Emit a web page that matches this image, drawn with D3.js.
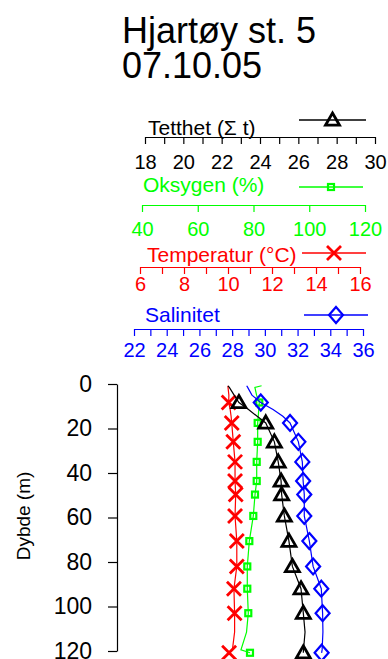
<!DOCTYPE html>
<html>
<head>
<meta charset="utf-8">
<script src="https://cdn.jsdelivr.net/npm/d3@7"></script>
<style>
  html, body { margin: 0; padding: 0; background: #fff; }
  svg { display: block; }
  text { font-family: "Liberation Sans", Arial, sans-serif; }
</style>
</head>
<body>
<svg id="chart" width="388" height="659"></svg>
<script>
// CTD profile, Hjartøy station 5, 7 Oct 2005
const profileDepth = [0.8, 1.5, 5, 8.3, 11.5, 14.5, 17.5, 26, 35, 43.6, 49.7, 59.3, 70.6, 82, 92, 103, 111.5, 119.5, 120.8];
const temperature  = [10.0, 10.0, 10.04, 10.03, 10.1, 10.14, 10.17, 10.24, 10.32, 10.32, 10.35, 10.32, 10.4, 10.4, 10.27, 10.3, 10.3, 10.2, 10.05];
const salinity     = [28.89, 28.95, 29.21, 29.75, 30.5, 31.1, 31.54, 32.05, 32.29, 32.34, 32.41, 32.41, 32.72, 32.95, 33.45, 33.53, 33.55, 33.5, 33.47];
const density      = [22.33, 22.4, 22.65, 22.9, 23.4, 23.85, 24.3, 24.75, 24.95, 25.1, 25.13, 25.27, 25.51, 25.69, 26.14, 26.26, 26.35, 26.27, 26.26];
const oxygen       = [82.9, 80.5, 81.1, 82.08, 81.9, 81.7, 81.5, 81.5, 81.15, 81.15, 80.54, 79.93, 78.5, 77.77, 77.77, 78.13, 77.5, 75.5, 78.74];

// depths where a symbol is drawn on each profile
const markerDepths = [8.3, 17.5, 26, 35, 43.6, 49.7, 59.3, 70.6, 82, 92, 103, 120.8];

// axis ticks and labels
const densityTicks = d3.range(18, 31, 1);
const densityLabels = [18, 20, 22, 24, 26, 28, 30];
const oxygenTicks = [40, 60, 80, 100, 120];
const tempTicks = d3.range(6, 17, 1);
const tempLabels = [6, 8, 10, 12, 14, 16];
const salTicks = d3.range(22, 37, 1);
const salLabels = [22, 24, 26, 28, 30, 32, 34, 36];
const depthTicks = [0, 20, 40, 60, 80, 100, 120];

const titleLines = ["Hjartøy st. 5", "07.10.05"];

const BLACK = "#000000", GREEN = "#00ff00", RED = "#ff0000", BLUE = "#0000ff";

const svg = d3.select("#chart");

// scales
const yScale = d3.scaleLinear().domain([0, 120]).range([384, 651]);
const xDensity = d3.scaleLinear().domain([18, 30]).range([145, 375]);
const xOxygen = d3.scaleLinear().domain([40, 120]).range([142, 365]);
const xTemp = d3.scaleLinear().domain([6, 16]).range([140, 360]);
const xSal = d3.scaleLinear().domain([22, 36]).range([134, 363]);

// title
svg.append("g").selectAll("text").data(titleLines).join("text")
  .attr("x", 122)
  .attr("y", (d, i) => 43 + i * 35)
  .attr("font-size", 36)
  .attr("fill", BLACK)
  .text(d => d);

// symbol generators (drawn centred on 0,0)
const symbols = {
  triangle: g => g.append("path").attr("d", "M0,-7L7,5.2L-7,5.2Z")
    .attr("fill", "none").attr("stroke", BLACK).attr("stroke-width", 2.8).attr("stroke-linejoin", "miter"),
  square: g => g.append("rect").attr("x", -3).attr("y", -3).attr("width", 6).attr("height", 6)
    .attr("fill", "none").attr("stroke", GREEN).attr("stroke-width", 2.2),
  cross: g => g.append("path").attr("d", "M-7,-7L7,7M-7,7L7,-7")
    .attr("fill", "none").attr("stroke", RED).attr("stroke-width", 2.8),
  diamond: g => g.append("path").attr("d", "M0,-8L7,0L0,8L-7,0Z")
    .attr("fill", "none").attr("stroke", BLUE).attr("stroke-width", 2.2)
};

// stacked top axes with legend lines
function topAxis(cfg) {
  const g = svg.append("g");
  const axis = d3.axisBottom(cfg.scale)
    .tickValues(cfg.ticks)
    .tickSize(7)
    .tickSizeOuter(0)
    .tickPadding(cfg.pad)
    .tickFormat(d => cfg.labels.includes(d) ? d : "");
  const ag = g.append("g").attr("transform", `translate(0,${cfg.y})`).call(axis);
  ag.select(".domain").attr("stroke", cfg.color).attr("stroke-width", 1.2);
  ag.selectAll(".tick line").attr("stroke", cfg.color).attr("stroke-width", 1.2);
  ag.selectAll(".tick text").attr("fill", cfg.color).attr("font-size", 20)
    .attr("font-family", "'Liberation Sans', Arial, sans-serif");
  g.append("text").attr("x", cfg.labelX).attr("y", cfg.labelY)
    .attr("font-size", 21).attr("fill", cfg.color).text(cfg.label);
  g.append("line").attr("x1", cfg.legX[0]).attr("x2", cfg.legX[1])
    .attr("y1", cfg.legY).attr("y2", cfg.legY)
    .attr("stroke", cfg.color).attr("stroke-width", 1.3);
  const m = g.append("g").attr("transform", `translate(${(cfg.legX[0] + cfg.legX[1]) / 2},${cfg.legY})`);
  symbols[cfg.symbol](m);
}

topAxis({ scale: xDensity, ticks: densityTicks, labels: densityLabels, y: 137, pad: 11, color: BLACK,
  label: "Tetthet (\u03A3 t)", labelX: 148, labelY: 135, legX: [299, 366], legY: 120, symbol: "triangle" });
topAxis({ scale: xOxygen, ticks: oxygenTicks, labels: oxygenTicks, y: 205, pad: 10, color: GREEN,
  label: "Oksygen (%)", labelX: 143, labelY: 192, legX: [299, 363], legY: 187, symbol: "square" });
topAxis({ scale: xTemp, ticks: tempTicks, labels: tempLabels, y: 267, pad: 3, color: RED,
  label: "Temperatur (\u00B0C)", labelX: 147, labelY: 262, legX: [302, 366], legY: 253, symbol: "cross" });
topAxis({ scale: xSal, ticks: salTicks, labels: salLabels, y: 329, pad: 7, color: BLUE,
  label: "Salinitet", labelX: 145, labelY: 322, legX: [304, 368], legY: 315, symbol: "diamond" });

// depth axis
const yAxis = d3.axisLeft(yScale).tickValues(depthTicks).tickSize(9).tickSizeOuter(0).tickPadding(16);
const yg = svg.append("g").attr("transform", "translate(117,0)").call(yAxis);
yg.select(".domain").attr("stroke", BLACK).attr("stroke-width", 1.2);
yg.selectAll(".tick line").attr("stroke", BLACK).attr("stroke-width", 1.2);
yg.selectAll(".tick text").attr("fill", BLACK).attr("font-size", 23)
  .attr("font-family", "'Liberation Sans', Arial, sans-serif");

svg.append("text")
  .attr("transform", "translate(30,516) rotate(-90)")
  .attr("text-anchor", "middle")
  .attr("font-size", 19)
  .attr("fill", BLACK)
  .text("Dybde (m)");

// profiles
const series = [
  { values: temperature, scale: xTemp, color: RED, symbol: "cross" },
  { values: oxygen, scale: xOxygen, color: GREEN, symbol: "square" },
  { values: density, scale: xDensity, color: BLACK, symbol: "triangle" },
  { values: salinity, scale: xSal, color: BLUE, symbol: "diamond" }
];

series.forEach(s => {
  const pts = profileDepth.map((d, i) => ({ depth: d, value: s.values[i] }));
  const line = d3.line().x(p => s.scale(p.value)).y(p => yScale(p.depth));
  svg.append("path").datum(pts)
    .attr("d", line)
    .attr("fill", "none")
    .attr("stroke", s.color)
    .attr("stroke-width", 1.2);
  const marks = pts.filter(p => markerDepths.includes(p.depth));
  svg.append("g").selectAll("g").data(marks).join("g")
    .attr("transform", p => `translate(${s.scale(p.value)},${yScale(p.depth)})`)
    .each(function () { symbols[s.symbol](d3.select(this)); });
});
</script>
</body>
</html>
